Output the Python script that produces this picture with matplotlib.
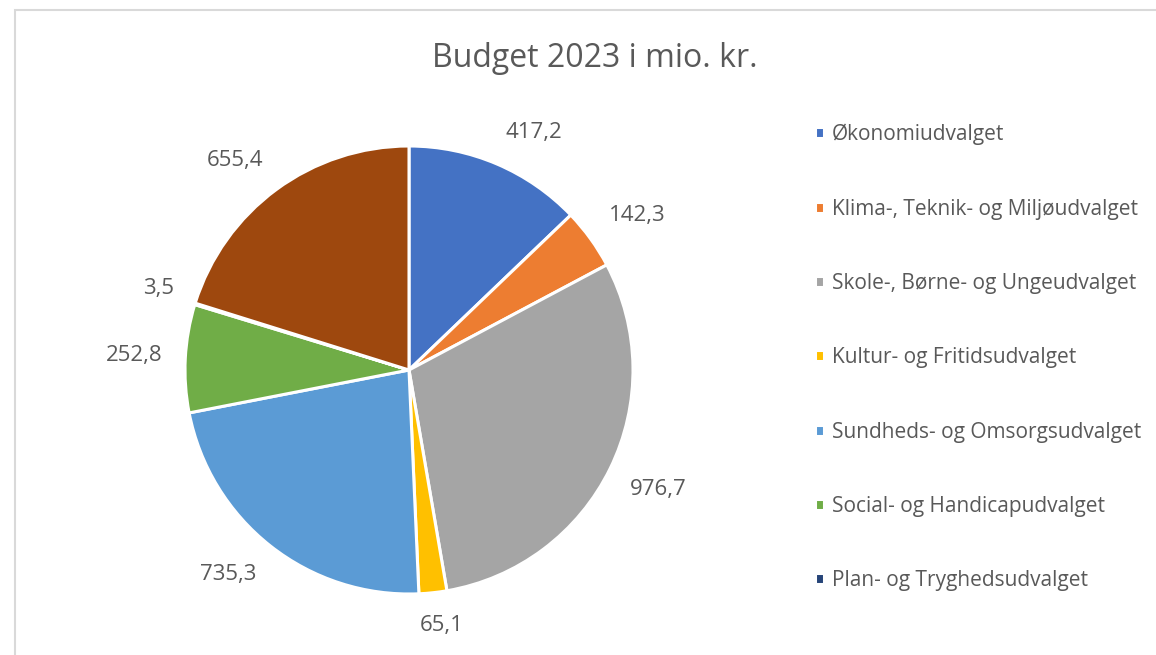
import numpy as np
import matplotlib.pyplot as plt
from matplotlib.patches import Rectangle

categories = [
    "Økonomiudvalget",
    "Klima-, Teknik- og Miljøudvalget",
    "Skole-, Børne- og Ungeudvalget",
    "Kultur- og Fritidsudvalget",
    "Sundheds- og Omsorgsudvalget",
    "Social- og Handicapudvalget",
    "Plan- og Tryghedsudvalget",
    "Øvrige",
]
values = [417.2, 142.3, 976.7, 65.1, 735.3, 252.8, 3.5, 655.4]
value_labels = ["417,2", "142,3", "976,7", "65,1", "735,3", "252,8", "3,5", "655,4"]
legend_count = 7  # the last entry is cut off in the original legend

COLORS = ["#4472C4", "#ED7D31", "#A5A5A5", "#FFC000",
          "#5B9BD5", "#70AD47", "#264478", "#9E480E"]
TEXT = "#595959"

plt.rcParams["font.family"] = ["Open Sans", "DejaVu Sans"]

W, H = 1156, 655
fig = plt.figure(figsize=(W / 100, H / 100), dpi=100)

# light grey chart frame (only top/left visible in the crop)
fig.patches.append(Rectangle((15 / W, -0.05), 1.1, 1 - 10 / H + 0.05,
                             transform=fig.transFigure, fill=False,
                             edgecolor="#D9D9D9", linewidth=1.5))

cx, cy, r = 409, 370, 224
ax = fig.add_axes([(cx - r) / W, (H - cy - r) / H, 2 * r / W, 2 * r / H])
wedges, _ = ax.pie(
    values, colors=COLORS, startangle=90, counterclock=False,
    wedgeprops=dict(edgecolor="white", linewidth=2.2),
)
ax.set_xlim(-1, 1)
ax.set_ylim(-1, 1)
ax.set_aspect("equal")
ax.axis("off")

# Excel-like outside-end labels: the label box sits just outside the rim,
# pushed out by its own half size in the direction of the slice
renderer = fig.canvas.get_renderer()
gap = 1.1
for wedge, lab in zip(wedges, value_labels):
    mid = np.deg2rad((wedge.theta1 + wedge.theta2) / 2)
    ux, uy = np.cos(mid), np.sin(mid)
    t = ax.text(0, 0, lab, ha="center", va="center", fontsize=16, color=TEXT)
    bb = t.get_window_extent(renderer)
    fx = np.clip(2.7 * ux, -1, 1)
    fy = np.clip(2.7 * uy, -1, 1)
    t.set_position((gap * ux + fx * bb.width / 2 / r,
                    gap * uy + fy * bb.height / 2 / r))

fig.text(594.5 / W, 1 - 67 / H, "Budget 2023 i mio. kr.", ha="center", va="baseline",
         fontsize=23, color=TEXT)

fig.legend(wedges[:legend_count], categories[:legend_count],
           loc="center left", bbox_to_anchor=(815 / W, 1 - 357.5 / H),
           frameon=False, fontsize=15, labelcolor=TEXT,
           borderpad=0, borderaxespad=0,
           handlelength=0.43, handleheight=0.43, handletextpad=0.38,
           labelspacing=2.56)

fig.savefig("out.png", dpi=100)
